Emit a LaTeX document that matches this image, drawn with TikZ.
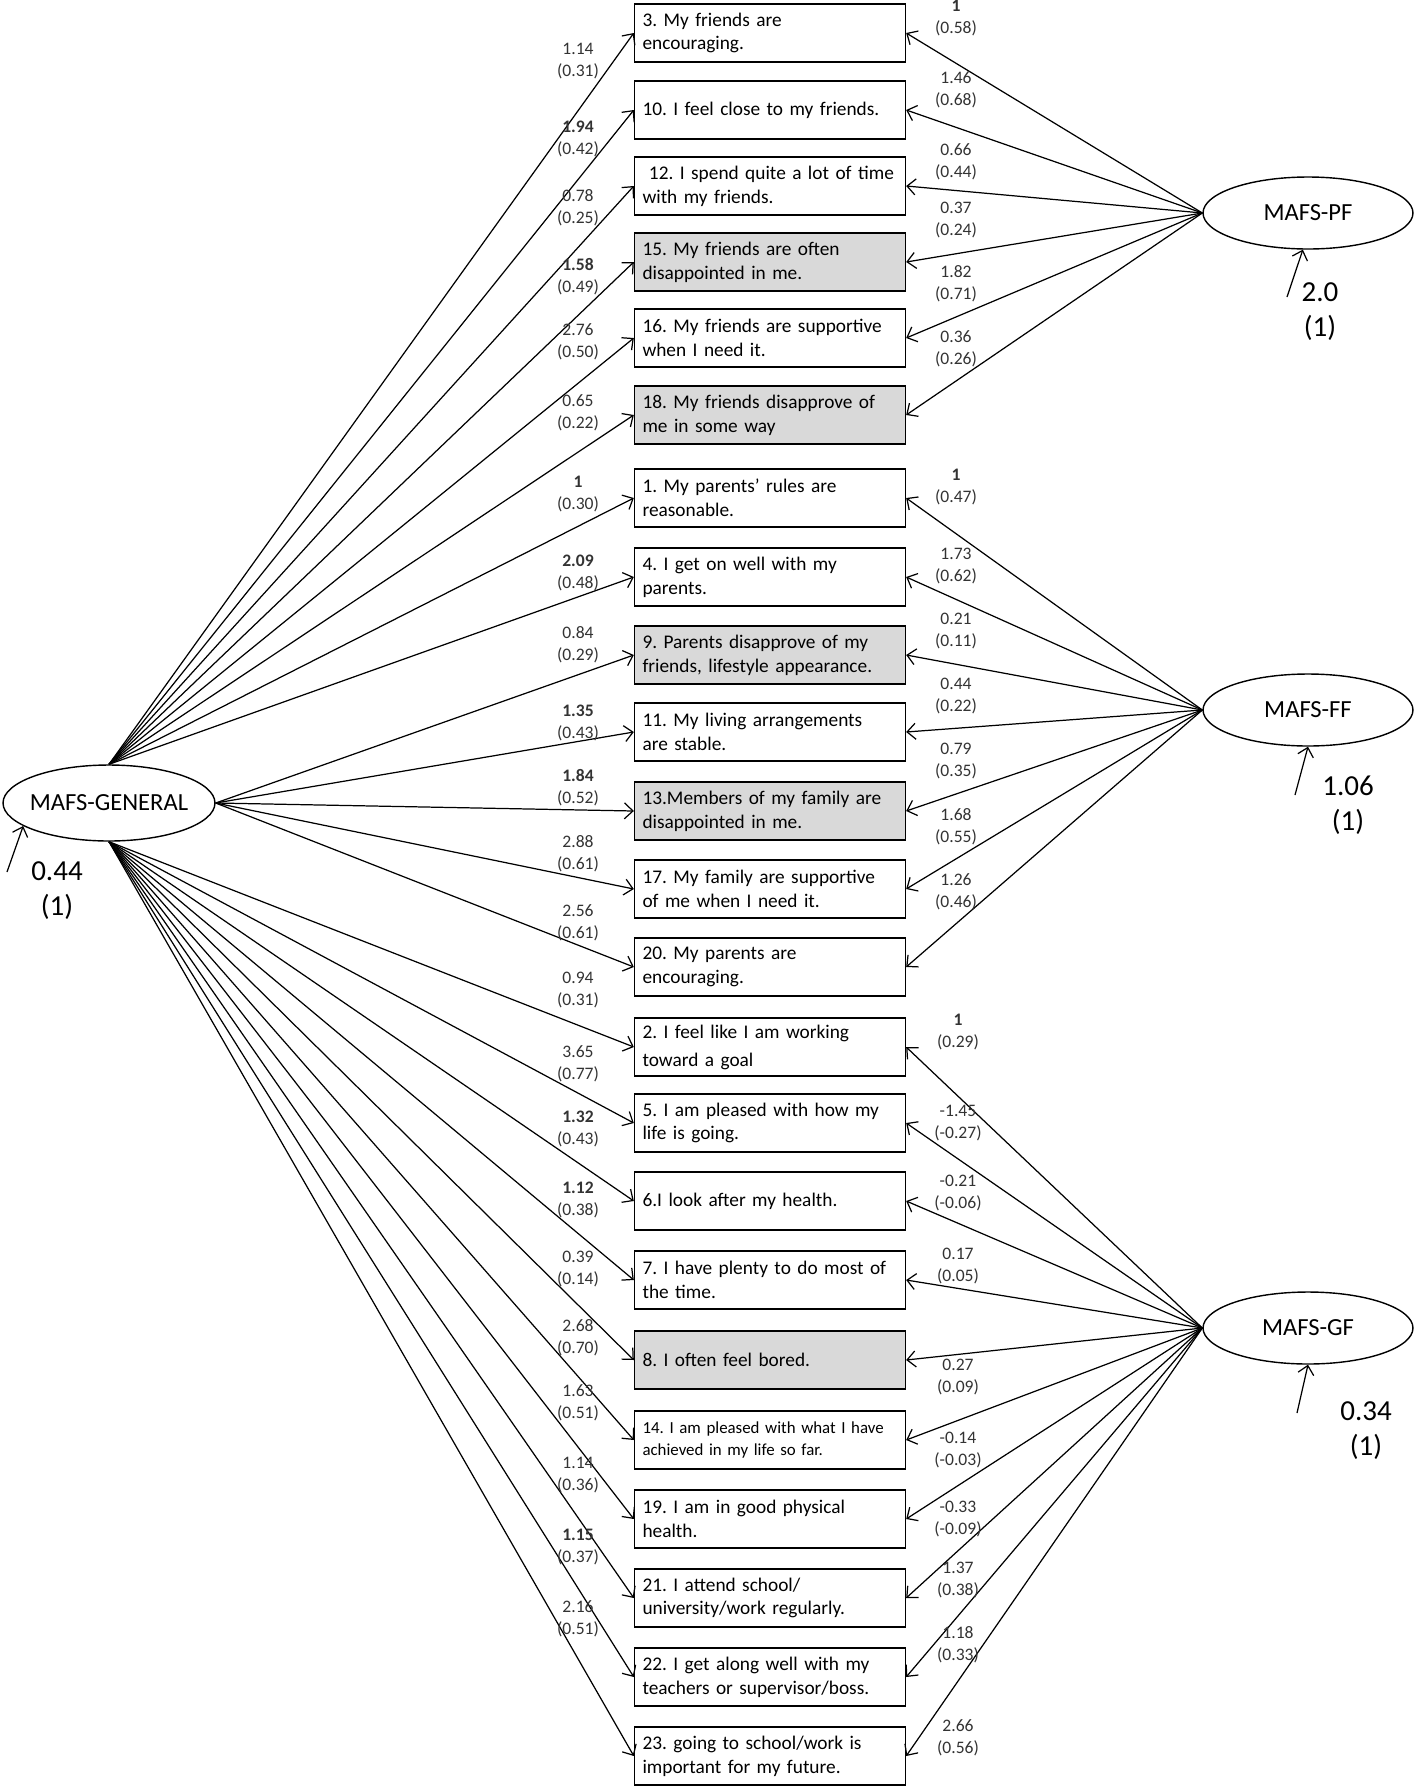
\documentclass[tikz,border=0pt]{standalone}
\usepackage{fontspec}
\setmainfont{Carlito}
\usetikzlibrary{shapes.geometric}
\usetikzlibrary{arrows.meta}
\frenchspacing

\begin{document}
\begin{tikzpicture}[x=0.02cm, y=-0.02cm,
    item/.style={draw, rectangle, line width=0.8pt, fill=white, text width=5.1cm, inner xsep=0.16cm, inner ysep=0pt, minimum height=1.16cm, align=left, font=\fontsize{11}{13.5}\selectfont},
    itemg/.style={item, fill=black!15},
    factor/.style={draw, ellipse, line width=0.8pt, minimum width=4.2cm, minimum height=1.44cm, inner xsep=-0.2cm, inner ysep=0pt, font=\fontsize{14}{16}\selectfont},
    coef/.style={align=center, inner sep=0pt, text=black!80, font=\fontsize{10}{12.5}\selectfont},
    resid/.style={align=center, inner sep=0pt, font=\fontsize{16.5}{20}\selectfont},
    arr/.style={-{Straight Barb[length=0.17cm, width=0.32cm]}, line width=0.7pt}]
            \useasboundingbox (0,0) rectangle (1418,1789);

            % latent factors
            \node[factor, minimum width=4.24cm, minimum height=1.52cm] (gen) at (109,803) {MAFS-GENERAL};
            \node[factor] (pf) at (1308,213) {MAFS-PF};
            \node[factor] (ff) at (1308,710) {MAFS-FF};
            \node[factor] (gf) at (1308,1328) {MAFS-GF};

            % items
            \node[item] (q3) at (770,33) {3. My friends are\\encouraging.};
            \node[item] (q10) at (770,110) {10. I feel close to my friends.};
            \node[item] (q12) at (770,186) {\ 12. I spend quite a lot of time\\with my friends.};
            \node[itemg] (q15) at (770,262) {15. My friends are often\\disappointed in me.};
            \node[item] (q16) at (770,338) {16. My friends are supportive\\when I need it.};
            \node[itemg] (q18) at (770,415) {18. My friends disapprove of\\me in some way};
            \node[item] (q1) at (770,498) {1. My parents’ rules are\\reasonable.};
            \node[item] (q4) at (770,577) {4. I get on well with my\\parents.};
            \node[itemg] (q9) at (770,655) {9. Parents disapprove of my\\friends, lifestyle appearance.};
            \node[item] (q11) at (770,732) {11. My living arrangements\\are stable.};
            \node[itemg] (q13) at (770,811) {13.Members of my family are\\disappointed in me.};
            \node[item] (q17) at (770,889) {17. My family are supportive\\of me when I need it.};
            \node[item] (q20) at (770,967) {20. My parents are\\encouraging.};
            \node[item, font=\fontsize{11}{16}\selectfont] (q2) at (770,1047) {2. I feel like I am working\\toward a goal};
            \node[item] (q5) at (770,1123) {5. I am pleased with how my\\life is going.};
            \node[item] (q6) at (770,1201) {6.I look after my health.};
            \node[item] (q7) at (770,1280) {7. I have plenty to do most of\\the time.};
            \node[itemg] (q8) at (770,1360) {8. I often feel bored.};
            \node[item, font=\fontsize{9.6}{12.3}\selectfont] (q14) at (770,1440) {14. I am pleased with what I have\\achieved in my life so far.};
            \node[item] (q19) at (770,1519) {19. I am in good physical\\health.};
            \node[item] (q21) at (770,1598) {21. I attend school/\\university/work regularly.};
            \node[item] (q22) at (770,1677) {22. I get along well with my\\teachers or supervisor/boss.};
            \node[item] (q23) at (770,1756) {23. going to school/work is\\important for my future.};

            % MAFS-GENERAL loadings
            \draw[arr] (gen.north) -- (q3.west);
            \draw[arr] (gen.north) -- (q10.west);
            \draw[arr] (gen.north) -- (q12.west);
            \draw[arr] (gen.north) -- (q15.west);
            \draw[arr] (gen.north) -- (q16.west);
            \draw[arr] (gen.north) -- (q18.west);
            \draw[arr] (gen.north) -- (q1.west);
            \draw[arr] (gen.north) -- (q4.west);
            \draw[arr] (gen.east) -- (q9.west);
            \draw[arr] (gen.east) -- (q11.west);
            \draw[arr] (gen.east) -- (q13.west);
            \draw[arr] (gen.east) -- (q17.west);
            \draw[arr] (gen.east) -- (q20.west);
            \draw[arr] (gen.south) -- (q2.west);
            \draw[arr] (gen.south) -- (q5.west);
            \draw[arr] (gen.south) -- (q6.west);
            \draw[arr] (gen.south) -- (q7.west);
            \draw[arr] (gen.south) -- (q8.west);
            \draw[arr] (gen.south) -- (q14.west);
            \draw[arr] (gen.south) -- (q19.west);
            \draw[arr] (gen.south) -- (q21.west);
            \draw[arr] (gen.south) -- (q22.west);
            \draw[arr] (gen.south) -- (q23.west);

            % group factor loadings
            \draw[arr] (pf.west) -- (q3.east);
            \draw[arr] (pf.west) -- (q10.east);
            \draw[arr] (pf.west) -- (q12.east);
            \draw[arr] (pf.west) -- (q15.east);
            \draw[arr] (pf.west) -- (q16.east);
            \draw[arr] (pf.west) -- (q18.east);
            \draw[arr] (ff.west) -- (q1.east);
            \draw[arr] (ff.west) -- (q4.east);
            \draw[arr] (ff.west) -- (q9.east);
            \draw[arr] (ff.west) -- (q11.east);
            \draw[arr] (ff.west) -- (q13.east);
            \draw[arr] (ff.west) -- (q17.east);
            \draw[arr] (ff.west) -- (q20.east);
            \draw[arr] (gf.west) -- (q2.east);
            \draw[arr] (gf.west) -- (q5.east);
            \draw[arr] (gf.west) -- (q6.east);
            \draw[arr] (gf.west) -- (q7.east);
            \draw[arr] (gf.west) -- (q8.east);
            \draw[arr] (gf.west) -- (q14.east);
            \draw[arr] (gf.west) -- (q19.east);
            \draw[arr] (gf.west) -- (q21.east);
            \draw[arr] (gf.west) -- (q22.east);
            \draw[arr] (gf.west) -- (q23.east);

            % left coefficients
            \node[coef] (l3) at (578,61) {1.14\\(0.31)};
            \node[coef] (l10) at (578,139) {\textbf{1.94}\\(0.42)};
            \node[coef] (l12) at (578,208) {0.78\\(0.25)};
            \node[coef] (l15) at (578,277) {\textbf{1.58}\\(0.49)};
            \node[coef] (l16) at (578,342) {2.76\\(0.50)};
            \node[coef] (l18) at (578,413) {0.65\\(0.22)};
            \node[coef] (l1) at (578,494) {\textbf{1}\\(0.30)};
            \node[coef] (l4) at (578,573) {\textbf{2.09}\\(0.48)};
            \node[coef] (l9) at (578,645) {0.84\\(0.29)};
            \node[coef] (l11) at (578,723) {\textbf{1.35}\\(0.43)};
            \node[coef] (l13) at (578,788) {\textbf{1.84}\\(0.52)};
            \node[coef] (l17) at (578,854) {2.88\\(0.61)};
            \node[coef] (l20) at (578,923) {2.56\\(0.61)};
            \node[coef] (l2) at (578,990) {0.94\\(0.31)};
            \node[coef] (l5) at (578,1064) {3.65\\(0.77)};
            \node[coef] (l6) at (578,1129) {\textbf{1.32}\\(0.43)};
            \node[coef] (l7) at (578,1200) {\textbf{1.12}\\(0.38)};
            \node[coef] (l8) at (578,1269) {0.39\\(0.14)};
            \node[coef] (l14) at (578,1338) {2.68\\(0.70)};
            \node[coef] (l19) at (578,1403) {1.63\\(0.51)};
            \node[coef] (l21) at (578,1475) {1.14\\(0.36)};
            \node[coef] (l22) at (578,1547) {\textbf{1.15}\\(0.37)};
            \node[coef] (l23) at (578,1619) {2.16\\(0.51)};

            % right coefficients
            \node[coef] (r3) at (956,18) {\textbf{1}\\(0.58)};
            \node[coef] (r10) at (956,90) {1.46\\(0.68)};
            \node[coef] (r12) at (956,162) {0.66\\(0.44)};
            \node[coef] (r15) at (956,220) {0.37\\(0.24)};
            \node[coef] (r16) at (956,284) {1.82\\(0.71)};
            \node[coef] (r18) at (956,349) {0.36\\(0.26)};
            \node[coef] (r1) at (956,487) {\textbf{1}\\(0.47)};
            \node[coef] (r4) at (956,566) {1.73\\(0.62)};
            \node[coef] (r9) at (956,631) {0.21\\(0.11)};
            \node[coef] (r11) at (956,696) {0.44\\(0.22)};
            \node[coef] (r13) at (956,761) {0.79\\(0.35)};
            \node[coef] (r17) at (956,827) {1.68\\(0.55)};
            \node[coef] (r20) at (956,892) {1.26\\(0.46)};
            \node[coef] (r2) at (958,1032) {\textbf{1}\\(0.29)};
            \node[coef] (r5) at (958,1123) {-1.45\\(-0.27)};
            \node[coef] (r6) at (958,1193) {-0.21\\(-0.06)};
            \node[coef] (r7) at (958,1266) {0.17\\(0.05)};
            \node[coef] (r8) at (958,1377) {0.27\\(0.09)};
            \node[coef] (r14) at (958,1450) {-0.14\\(-0.03)};
            \node[coef] (r19) at (958,1519) {-0.33\\(-0.09)};
            \node[coef] (r21) at (958,1580) {1.37\\(0.38)};
            \node[coef] (r22) at (958,1645) {1.18\\(0.33)};
            \node[coef] (r23) at (958,1738) {2.66\\(0.56)};

            % residual variances
            \coordinate (gen-e) at (7,872);
            \coordinate (pf-e) at (1287,297);
            \coordinate (ff-e) at (1295,795);
            \coordinate (gf-e) at (1297,1413);
            \draw[arr] (gen-e) -- (gen.195);
            \draw[arr] (pf-e) -- (pf.262);
            \draw[arr] (ff-e) -- (ff.south);
            \draw[arr] (gf-e) -- (gf.south);
            \node[resid] (gen-v) at (57,891) {0.44\\(1)};
            \node[resid] (pf-v) at (1320,312) {2.0\\(1)};
            \node[resid] (ff-v) at (1348,805) {1.06\\(1)};
            \node[resid] (gf-v) at (1366,1431) {0.34\\(1)};
        \end{tikzpicture}
\end{document}
